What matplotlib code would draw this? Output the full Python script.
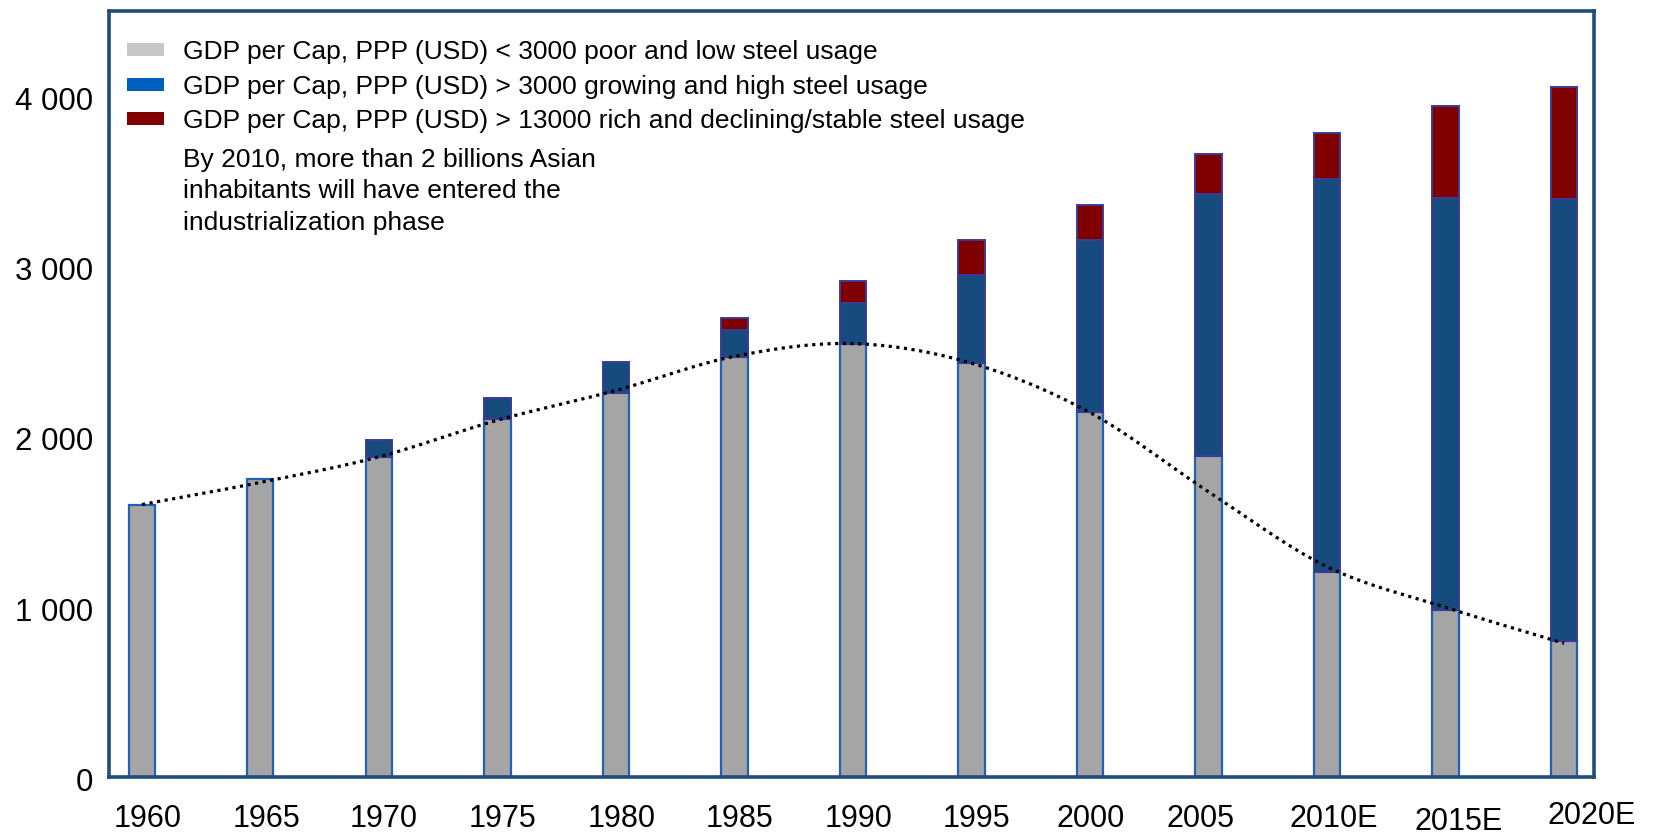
import matplotlib
matplotlib.use('Agg')
import matplotlib.pyplot as plt
import matplotlib.transforms as mtransforms
from matplotlib.patches import Patch
import numpy as np

plt.rcParams['font.family'] = ['Liberation Sans', 'DejaVu Sans']

# ---------------- data ----------------
years = ['1960', '1965', '1970', '1975', '1980', '1985', '1990',
         '1995', '2000', '2005', '2010E', '2015E', '2020E']
poor = [1597, 1752, 1877, 2100, 2257, 2468, 2541, 2429, 2145, 1885, 1204, 979, 801]
growing = [0, 0, 100, 125, 180, 155, 245, 520, 1010, 1540, 2310, 2420, 2595]
rich = [0, 0, 0, 0, 0, 72, 125, 205, 205, 235, 270, 540, 655]
trend = [1600, 1730, 1880, 2095, 2270, 2470, 2545, 2430, 2140, 1675, 1235, 996, 785]
yticks = [0, 1000, 2000, 3000, 4000]
ytick_labels = ['0', '1 000', '2 000', '3 000', '4 000']
legend_labels = ['GDP per Cap, PPP (USD) < 3000 poor and low steel usage',
                 'GDP per Cap, PPP (USD) > 3000 growing and high steel usage',
                 'GDP per Cap, PPP (USD) > 13000 rich and declining/stable steel usage']
note_lines = ['By 2010, more than 2 billions Asian',
              'inhabitants will have entered the',
              'industrialization phase']

# ---------------- styles ----------------
GRAY, GRAY_EDGE = '#A5A5A5', '#1F63B8'
BLUE, BLUE_EDGE = '#154B7D', '#3B3B98'
RED, RED_EDGE = '#800000', '#3B3B98'
SPINE = '#1F4E79'

W, H, DPI = 1658, 835, 100
fig = plt.figure(figsize=(W / DPI, H / DPI), dpi=DPI)
ax = fig.add_axes([109 / W, 1 - 777 / H, (1594.5 - 109) / W, (777 - 11) / H])

x = np.arange(len(years))
poor_a = np.array(poor, float)
grow_a = np.array(growing, float)
rich_a = np.array(rich, float)
bw = 0.22

ax.bar(x, poor_a, width=bw, color=GRAY, edgecolor=GRAY_EDGE, linewidth=1.6, zorder=2)
m = grow_a > 0
ax.bar(x[m], grow_a[m], width=bw, bottom=poor_a[m], color=BLUE,
       edgecolor=BLUE_EDGE, linewidth=1.4, zorder=2)
m2 = rich_a > 0
ax.bar(x[m2], rich_a[m2], width=bw, bottom=(poor_a + grow_a)[m2], color=RED,
       edgecolor=RED_EDGE, linewidth=1.4, zorder=2)


# smoothed trend (Catmull-Rom rendering of the trend points)
def catmull_rom(xs, ys, n=30):
    pts = np.column_stack([xs, ys]).astype(float)
    p = np.vstack([pts[0] - (pts[1] - pts[0]), pts, pts[-1] + (pts[-1] - pts[-2])])
    out = []
    for i in range(1, len(p) - 2):
        p0, p1, p2, p3 = p[i - 1], p[i], p[i + 1], p[i + 2]
        t = np.linspace(0, 1, n, endpoint=False)[:, None]
        seg = 0.5 * ((2 * p1) + (-p0 + p2) * t + (2 * p0 - 5 * p1 + 4 * p2 - p3) * t ** 2
                     + (-p0 + 3 * p1 - 3 * p2 + p3) * t ** 3)
        out.append(seg)
    out.append(pts[-1][None, :])
    return np.vstack(out)


curve = catmull_rom(x, trend)
ax.plot(curve[:, 0], curve[:, 1], color='black', linestyle=(0, (1, 1.4)),
        linewidth=2.3, zorder=3)

ax.set_xlim(-0.278, 12.257)
ax.set_ylim(0, 4498)
ax.set_xticks([])
ax.set_yticks([])
for s in ax.spines.values():
    s.set_color(SPINE)
    s.set_linewidth(2.6)

# y tick labels
for v, lab in zip(yticks, ytick_labels):
    tr = ax.get_yaxis_transform() + mtransforms.ScaledTranslation(-16 / DPI, -6 / DPI, fig.dpi_scale_trans)
    ax.text(0, v, lab, transform=tr, ha='right', va='center', fontsize=22.5, color='black')

# x tick labels (with the small per-label shifts seen in the original)
xoff = [6, 6, 5, 5, 6, 5, 6, 5, 1, -8, 7, 13, 28]
yoff = [-42, -42, -42, -42, -42, -42, -42, -42, -42, -42, -42, -45, -39]
for i, lab in enumerate(years):
    tr = ax.get_xaxis_transform() + mtransforms.ScaledTranslation(xoff[i] / DPI, yoff[i] / DPI, fig.dpi_scale_trans)
    ax.text(i, 0, lab, transform=tr, ha='center', va='center', fontsize=22, color='black')

# legend
FS = 19
handles = [Patch(facecolor='#C8C8C8', edgecolor='none'),
           Patch(facecolor='#0060C0', edgecolor='none'),
           Patch(facecolor=RED, edgecolor='none')]
leg = fig.legend(handles, legend_labels, loc='upper left',
                 bbox_to_anchor=(127 / W, 1 - 40 / H), bbox_transform=fig.transFigure,
                 frameon=False, fontsize=FS, borderpad=0, borderaxespad=0,
                 handlelength=1.40, handleheight=0.38, handletextpad=0.72,
                 labelspacing=0.40)

for k, line in enumerate(note_lines):
    fig.text(183 / W, 1 - (159.5 + 31.7 * k) / H, line, ha='left', va='center',
             fontsize=FS, transform=fig.transFigure)

fig.savefig('out.png', dpi=DPI)
